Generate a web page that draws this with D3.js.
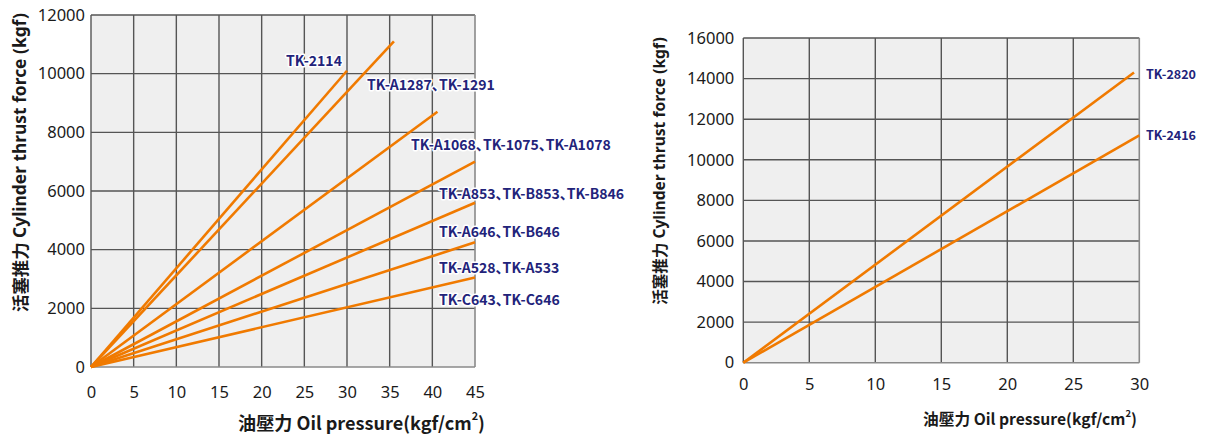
<!DOCTYPE html>
<html><head><meta charset="utf-8">
<script src="https://cdn.jsdelivr.net/npm/d3@7"></script>
<style>
body{margin:0;background:#fff;}
svg{display:block;}
</style></head><body>
<svg id="c" width="1212" height="437"></svg>
<script>
// ---- data ----
const leftModels = ["TK-2114","TK-A1287、TK-1291","TK-A1068、TK-1075、TK-A1078","TK-A853、TK-B853、TK-B846","TK-A646、TK-B646","TK-A528、TK-A533","TK-C643、TK-C646"];
const leftEndPressure = [30, 35.5, 40.6, 45, 45, 45, 45];
const leftEndForce = [10100, 11100, 8700, 7000, 5600, 4250, 3050];
const leftXTicks = [0,5,10,15,20,25,30,35,40,45];
const leftYTicks = [0,2000,4000,6000,8000,10000,12000];

const rightModels = ["TK-2820","TK-2416"];
const rightEndPressure = [29.6, 30];
const rightEndForce = [14300, 11200];
const rightXTicks = [0,5,10,15,20,25,30];
const rightYTicks = [0,2000,4000,6000,8000,10000,12000,14000,16000];

const yTitleCJK = "活塞推力";
const yTitleEN = " Cylinder thrust force (kgf)";
const xTitleCJK = "油壓力";
const xTitleEN = " Oil pressure(kgf/cm";

// ---- layout ----
const svg = d3.select("#c");
const ORANGE = "#f07a00", NAVY = "#22237a", GRID = "#555", BG = "#efefef";
const tickFont = "'Noto Sans', sans-serif";
const cjkFont = "'Noto Sans CJK JP', 'Noto Sans CJK TC', sans-serif";

function fit(sel, base, target){
  const w = sel.node().getComputedTextLength();
  return base * target / w;
}

function drawChart(o){
  const g = svg.append("g");
  const x = d3.scaleLinear().domain(o.xDom).range([o.x0, o.x1]);
  const y = d3.scaleLinear().domain(o.yDom).range([o.y0, o.y1]);
  g.append("rect").attr("x",o.x0).attr("y",o.y1).attr("width",o.x1-o.x0).attr("height",o.y0-o.y1).attr("fill",BG);
  g.selectAll(".vg").data(o.xTicks.slice(1,-1)).join("line")
    .attr("x1",d=>x(d)).attr("x2",d=>x(d)).attr("y1",o.y1).attr("y2",o.y0)
    .attr("stroke",GRID).attr("stroke-width",1.4);
  g.selectAll(".hg").data(o.yTicks.slice(1)).join("line")
    .attr("x1",o.x0).attr("x2",o.x1).attr("y1",d=>y(d)).attr("y2",d=>y(d))
    .attr("stroke",GRID).attr("stroke-width",1.4);
  g.append("line").attr("x1",o.x0).attr("x2",o.x0).attr("y1",o.y1).attr("y2",o.y0).attr("stroke",GRID).attr("stroke-width",1.4);
  g.append("line").attr("x1",o.x0).attr("x2",o.x1).attr("y1",o.y0).attr("y2",o.y0).attr("stroke","#8a8a8a").attr("stroke-width",1.6);
  g.append("line").attr("x1",o.x1).attr("x2",o.x1).attr("y1",o.y1).attr("y2",o.y0).attr("stroke","#8a8a8a").attr("stroke-width",1.6);
  const ax = g.append("g").attr("transform",`translate(0,${o.y0})`)
    .call(d3.axisBottom(x).tickValues(o.xTicks).tickSize(0).tickPadding(o.xPad).tickFormat(d3.format("d")));
  const ay = g.append("g").attr("transform",`translate(${o.x0},0)`)
    .call(d3.axisLeft(y).tickValues(o.yTicks).tickSize(0).tickPadding(o.yPad).tickFormat(d3.format("d")));
  [ax,ay].forEach(a=>{
    a.select(".domain").remove();
    a.selectAll("text").attr("font-family",tickFont).attr("font-size",o.tickSize).attr("fill","#1a1a1a");
  });
  g.selectAll(".ln").data(o.endP.map((p,i)=>[[0,0],[p,o.endF[i]]])).join("path")
    .attr("d",d3.line().x(d=>x(d[0])).y(d=>y(d[1])))
    .attr("stroke",ORANGE).attr("stroke-width",2.6).attr("fill","none");
  const lb = g.selectAll(".lb").data(o.models).join("text")
    .attr("x",(d,i)=>o.labelPos[i][0]).attr("y",(d,i)=>o.labelPos[i][1])
    .attr("dominant-baseline","central")
    .attr("font-family",cjkFont).attr("font-weight",700).attr("font-size",13)
    .style("font-feature-settings","'palt'")
    .attr("fill",NAVY).attr("stroke","#fff").attr("stroke-width",3).attr("paint-order","stroke")
    .attr("stroke-linejoin","round")
    .text(d=>d);
  const ls = fit(d3.select(lb.nodes()[0]), 13, o.label0W);
  lb.attr("font-size", ls);
  // x title
  const xt = g.append("text").attr("x",o.xTitle[0]).attr("y",o.xTitle[1]).attr("text-anchor","middle")
    .attr("dominant-baseline","central").attr("font-family",cjkFont).attr("font-weight",700)
    .attr("font-size",16).attr("fill","#1a1a1a");
  xt.append("tspan").text(xTitleCJK);
  xt.append("tspan").text(xTitleEN);
  const sup = xt.append("tspan").attr("font-size",16*0.6).attr("dy",-16*0.35).text("2");
  const cl = xt.append("tspan").attr("dy",16*0.35).text(")");
  const xs = fit(xt, 16, o.xTitleW);
  xt.attr("font-size",xs); sup.attr("font-size",xs*0.6).attr("dy",-xs*0.35); cl.attr("dy",xs*0.35);
  // y title
  const yt = g.append("text").attr("transform",`translate(${o.yTitle[0]},${o.yTitle[1]}) rotate(-90)`)
    .attr("text-anchor","middle").attr("dominant-baseline","central")
    .attr("font-weight",700).attr("font-size",16).attr("fill","#1a1a1a");
  yt.append("tspan").attr("font-family",cjkFont).text(yTitleCJK);
  yt.append("tspan").attr("font-family","'Noto Sans', sans-serif").text(yTitleEN);
  yt.attr("font-size", fit(yt, 16, o.yTitleW));
}

drawChart({
  xDom:[0,45], yDom:[0,12000], x0:91, x1:475, y0:367, y1:15,
  xTicks:leftXTicks, yTicks:leftYTicks, xPad:19, yPad:6, tickSize:16.5,
  endP:leftEndPressure, endF:leftEndForce, models:leftModels, label0W:56,
  labelPos:[[286,60],[367,84],[411,144],[439,193],[439,231],[439,267],[439,299]],
  xTitle:[361.5,421.5], xTitleW:247, yTitle:[19,162.5], yTitleW:299
});
drawChart({
  xDom:[0,30], yDom:[0,16000], x0:743.3, x1:1139.3, y0:362.7, y1:38,
  xTicks:rightXTicks, yTicks:rightYTicks, xPad:16, yPad:9, tickSize:16.5,
  endP:rightEndPressure, endF:rightEndForce, models:rightModels, label0W:50,
  labelPos:[[1146,73.3],[1146,134.3]],
  xTitle:[1030,418.3], xTitleW:214, yTitle:[659,171], yTitleW:268
});
</script>
</body></html>
